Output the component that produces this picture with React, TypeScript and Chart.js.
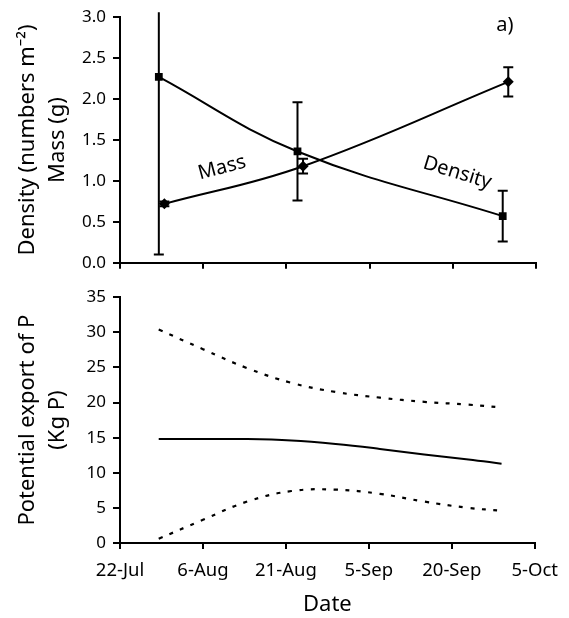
import React, { useEffect, useRef } from 'react';
import { Chart, registerables } from 'chart.js';

Chart.register(...registerables);

// ---------- data ----------
const tickLabels = ['22-Jul', '6-Aug', '21-Aug', '5-Sep', '20-Sep', '5-Oct'];
const tickStepDays = 15;
const maxDays = 75;

// top panel (a): days since 22-Jul
const densityDays = [7, 32, 69];
const densityValues = [2.27, 1.36, 0.57];
const densityErrors = [2.17, 0.6, 0.31];

const massDays = [8, 33, 70];
const massValues = [0.72, 1.18, 2.21];
const massErrors = [0.03, 0.09, 0.18];

// bottom panel: potential export of P (Kg P)
const exportDays = [7, 15, 23, 31, 39, 47, 55, 63, 69];
const exportMean = [14.8, 14.8, 14.8, 14.6, 14.1, 13.4, 12.6, 11.9, 11.3];
const exportUpper = [30.4, 27.6, 24.9, 22.8, 21.5, 20.7, 20.1, 19.7, 19.3];
const exportLower = [0.6, 3.3, 5.9, 7.4, 7.6, 7.0, 5.9, 5.0, 4.6];

const topTitle = ['Density (numbers m\u207B\u00B2)', 'Mass (g)'];
const bottomTitle = ['Potential export of P', '(Kg P)'];
const xTitle = 'Date';

const topNotes = [
  { text: 'Mass', day: 18.4, value: 1.16, angle: -15, size: 20 },
  { text: 'Density', day: 60.8, value: 1.1, angle: 17, size: 20 },
  { text: 'a)', day: 69.4, value: 2.9, angle: 0, size: 20 },
];

// ---------- styling ----------
const FAMILY = "'Noto Sans', 'DejaVu Sans', sans-serif";
const BLACK = '#000';

const toPts = (xs: number[], ys: number[]) => xs.map((x, i) => ({ x, y: ys[i] }));

const errorBarPlugin = {
  id: 'errorBars',
  afterDatasetsDraw(chart: any) {
    const { ctx, chartArea, scales } = chart;
    const x = scales.x;
    const y = scales.y;
    chart.data.datasets.forEach((ds: any) => {
      const errs: number[] | undefined = ds.errors;
      if (!errs) return;
      ctx.save();
      ctx.strokeStyle = BLACK;
      ctx.lineWidth = 2;
      ds.data.forEach((pt: any, i: number) => {
        const px = x.getPixelForValue(pt.x);
        const rawTop = y.getPixelForValue(pt.y + errs[i]);
        const limit = chartArea.top - 5;
        const top = Math.max(rawTop, limit);
        const bot = y.getPixelForValue(pt.y - errs[i]);
        ctx.beginPath();
        ctx.moveTo(px, top);
        ctx.lineTo(px, bot);
        ctx.moveTo(px - 5, bot);
        ctx.lineTo(px + 5, bot);
        if (rawTop >= limit) {
          ctx.moveTo(px - 5, top);
          ctx.lineTo(px + 5, top);
        }
        ctx.stroke();
      });
      ctx.restore();
    });
  },
};

const notesPlugin = {
  id: 'notes',
  afterDraw(chart: any) {
    const notes = chart.options.plugins?.notes?.items;
    if (!notes) return;
    const { ctx, scales } = chart;
    notes.forEach((n: any) => {
      const px = scales.x.getPixelForValue(n.day);
      const py = scales.y.getPixelForValue(n.value);
      ctx.save();
      ctx.translate(px, py);
      ctx.rotate((n.angle * Math.PI) / 180);
      ctx.font = `${n.size}px ${FAMILY}`;
      ctx.fillStyle = BLACK;
      ctx.textAlign = 'center';
      ctx.textBaseline = 'middle';
      ctx.fillText(n.text, 0, 0);
      ctx.restore();
    });
  },
};

const gridStyle = (tickLength: number) => ({
  drawOnChartArea: false,
  drawTicks: true,
  tickLength,
  color: BLACK,
  lineWidth: 2,
});

const borderStyle = { color: BLACK, width: 2 };

function xScale(showLabels: boolean, height: number) {
  return {
    type: 'linear',
    min: 0,
    max: maxDays,
    grid: gridStyle(6),
    border: borderStyle,
    ticks: {
      display: showLabels,
      stepSize: tickStepDays,
      color: BLACK,
      padding: 11,
      maxRotation: 0,
      autoSkip: false,
      font: { family: FAMILY, size: 18.5 },
      callback: (v: number) => tickLabels[Math.round(v / tickStepDays)] ?? '',
    },
    title: showLabels
      ? {
          display: true,
          text: xTitle,
          color: BLACK,
          font: { family: FAMILY, size: 22, lineHeight: 1.2 },
          padding: { top: 0, bottom: 0 },
        }
      : { display: false },
    afterFit: (s: any) => {
      s.height = height;
    },
  };
}

function yScale(max: number, step: number, decimals: number, title: string[]) {
  return {
    type: 'linear',
    min: 0,
    max,
    grid: gridStyle(7),
    border: borderStyle,
    ticks: {
      stepSize: step,
      color: BLACK,
      padding: 7,
      font: { family: FAMILY, size: 17 },
      callback: (v: number) => v.toFixed(decimals),
    },
    title: {
      display: true,
      text: title,
      color: BLACK,
      font: { family: FAMILY, size: 22, lineHeight: 1.36 },
      padding: { top: 13, bottom: 0 },
    },
    afterFit: (s: any) => {
      s.width = 120;
    },
  };
}

export default function App() {
  const topRef = useRef<HTMLCanvasElement | null>(null);
  const bottomRef = useRef<HTMLCanvasElement | null>(null);

  useEffect(() => {
    const top = new Chart(topRef.current as HTMLCanvasElement, {
      type: 'line',
      data: {
        datasets: [
          {
            label: 'Density',
            data: toPts(densityDays, densityValues),
            errors: densityErrors,
            borderColor: BLACK,
            backgroundColor: BLACK,
            borderWidth: 2,
            tension: 0.4,
            pointStyle: 'rect',
            pointRadius: 5.5,
            pointBorderWidth: 0,
          } as any,
          {
            label: 'Mass',
            data: toPts(massDays, massValues),
            errors: massErrors,
            borderColor: BLACK,
            backgroundColor: BLACK,
            borderWidth: 2,
            tension: 0.4,
            pointStyle: 'rectRot',
            pointRadius: 5.5,
            pointBorderWidth: 0,
          } as any,
        ],
      },
      options: {
        responsive: false,
        animation: false,
        layout: { padding: { top: 17, right: 33, left: 0, bottom: 0 } },
        plugins: {
          legend: { display: false },
          tooltip: { enabled: false },
          notes: { items: topNotes },
        } as any,
        scales: {
          x: xScale(false, 13) as any,
          y: yScale(3, 0.5, 1, topTitle) as any,
        },
      },
      plugins: [errorBarPlugin, notesPlugin],
    });

    const bottom = new Chart(bottomRef.current as HTMLCanvasElement, {
      type: 'line',
      data: {
        datasets: [
          {
            label: 'Upper',
            data: toPts(exportDays, exportUpper),
            borderColor: BLACK,
            borderWidth: 2.2,
            borderDash: [4, 7.5],
            tension: 0.4,
            pointRadius: 0,
          },
          {
            label: 'Mean',
            data: toPts(exportDays, exportMean),
            borderColor: BLACK,
            borderWidth: 2,
            tension: 0.4,
            pointRadius: 0,
          },
          {
            label: 'Lower',
            data: toPts(exportDays, exportLower),
            borderColor: BLACK,
            borderWidth: 2.2,
            borderDash: [4, 7.5],
            tension: 0.4,
            pointRadius: 0,
          },
        ],
      },
      options: {
        responsive: false,
        animation: false,
        layout: { padding: { top: 12, right: 33, left: 0, bottom: 0 } },
        plugins: {
          legend: { display: false },
          tooltip: { enabled: false },
        },
        scales: {
          x: xScale(true, 75) as any,
          y: yScale(35, 5, 0, bottomTitle) as any,
        },
      },
    });

    return () => {
      top.destroy();
      bottom.destroy();
    };
  }, []);

  return (
    <div
      style={{
        position: 'absolute',
        left: 0,
        top: 0,
        width: 569,
        height: 618,
        background: '#fff',
      }}
    >
      <canvas
        ref={topRef}
        width={569}
        height={280}
        style={{ position: 'absolute', left: 0, top: 0, display: 'block' }}
      />
      <canvas
        ref={bottomRef}
        width={569}
        height={338}
        style={{ position: 'absolute', left: 0, top: 280, display: 'block' }}
      />
    </div>
  );
}
